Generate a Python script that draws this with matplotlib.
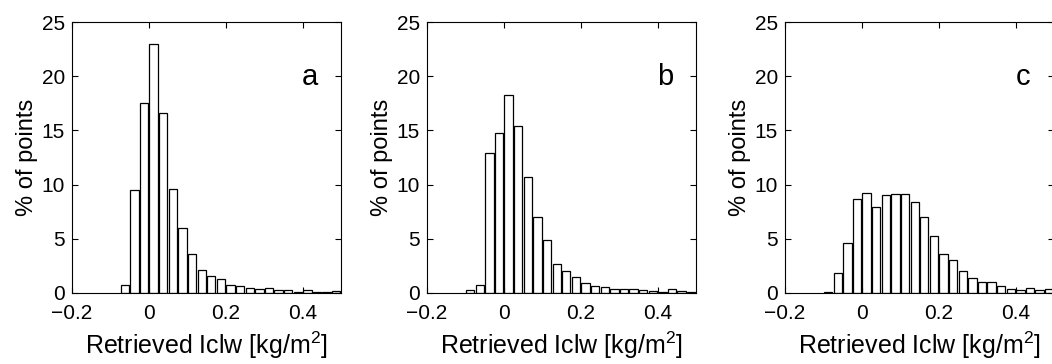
import numpy as np
import matplotlib
matplotlib.use('Agg')
import matplotlib.pyplot as plt

plt.rcParams['font.family'] = ['Liberation Sans', 'DejaVu Sans']
plt.rcParams['mathtext.fontset'] = 'custom'
plt.rcParams['mathtext.rm'] = 'Liberation Sans'
plt.rcParams['mathtext.it'] = 'Liberation Sans'

# bin centres [kg/m2] and % of points
bins_a = [-0.0625, -0.0375, -0.0125, 0.0125, 0.0375, 0.0625, 0.0875, 0.1125,
          0.1375, 0.1625, 0.1875, 0.2125, 0.2375, 0.2625, 0.2875, 0.3125,
          0.3375, 0.3625, 0.3875, 0.4125, 0.4375, 0.4625, 0.4875]
pct_a = [0.77, 9.5, 17.5, 23.0, 16.6, 9.6, 6.0, 3.6,
         2.1, 1.6, 1.3, 0.75, 0.6, 0.46, 0.4, 0.43,
         0.3, 0.25, 0.12, 0.25, 0.12, 0.12, 0.18]

bins_b = [-0.0875, -0.0625, -0.0375, -0.0125, 0.0125, 0.0375, 0.0625, 0.0875,
          0.1125, 0.1375, 0.1625, 0.1875, 0.2125, 0.2375, 0.2625, 0.2875,
          0.3125, 0.3375, 0.3625, 0.3875, 0.4125, 0.4375, 0.4625, 0.4875]
pct_b = [0.25, 0.74, 12.9, 14.8, 18.25, 15.4, 10.7, 7.0,
         4.9, 2.7, 2.0, 1.5, 0.92, 0.6, 0.55, 0.37,
         0.4, 0.35, 0.27, 0.17, 0.13, 0.4, 0.15, 0.08]

bins_c = [-0.0875, -0.0625, -0.0375, -0.0125, 0.0125, 0.0375, 0.0625, 0.0875,
          0.1125, 0.1375, 0.1625, 0.1875, 0.2125, 0.2375, 0.2625, 0.2875,
          0.3125, 0.3375, 0.3625, 0.3875, 0.4125, 0.4375, 0.4625, 0.4875]
pct_c = [0.1, 1.84, 4.6, 8.65, 9.2, 7.9, 9.08, 9.1,
         9.1, 8.4, 7.0, 5.3, 3.6, 3.0, 2.06, 1.35,
         1.0, 0.97, 0.64, 0.33, 0.28, 0.5, 0.3, 0.35]

panel_labels = ['a', 'b', 'c']
xticks = [-0.2, 0, 0.2, 0.4]
xticklabels = ['\u22120.2', '0', '0.2', '0.4']
yticks = [0, 5, 10, 15, 20, 25]

fig = plt.figure(figsize=(10.52, 3.64), dpi=100)
lefts = [72/1052., 427/1052., 785/1052.]
bw = 0.025*0.87

for k, (xb, yp) in enumerate([(bins_a, pct_a), (bins_b, pct_b), (bins_c, pct_c)]):
    ax = fig.add_axes([lefts[k], 71/364., 269/1052., 271/364.])
    ax.bar(xb, yp, width=bw, color='white', edgecolor='black', linewidth=0.9)
    ax.set_xlim(-0.2, 0.5)
    ax.set_ylim(0, 25)
    ax.set_xticks(xticks)
    ax.set_xticklabels(xticklabels)
    ax.set_yticks(yticks)
    ax.tick_params(direction='in', top=True, right=True, length=4, width=0.8,
                   labelsize=15)
    ax.tick_params(axis='x', pad=8)
    ax.tick_params(axis='y', pad=5)
    for s in ax.spines.values():
        s.set_linewidth(0.8)
    ax.set_xlabel('Retrieved Iclw [kg/m$^2$]', fontsize=18, labelpad=5)
    ax.set_ylabel('% of points', fontsize=17, labelpad=3)
    ax.text(0.42, 19.2, panel_labels[k], fontsize=21, ha='center', va='baseline')

fig.savefig('out.png', dpi=100)
